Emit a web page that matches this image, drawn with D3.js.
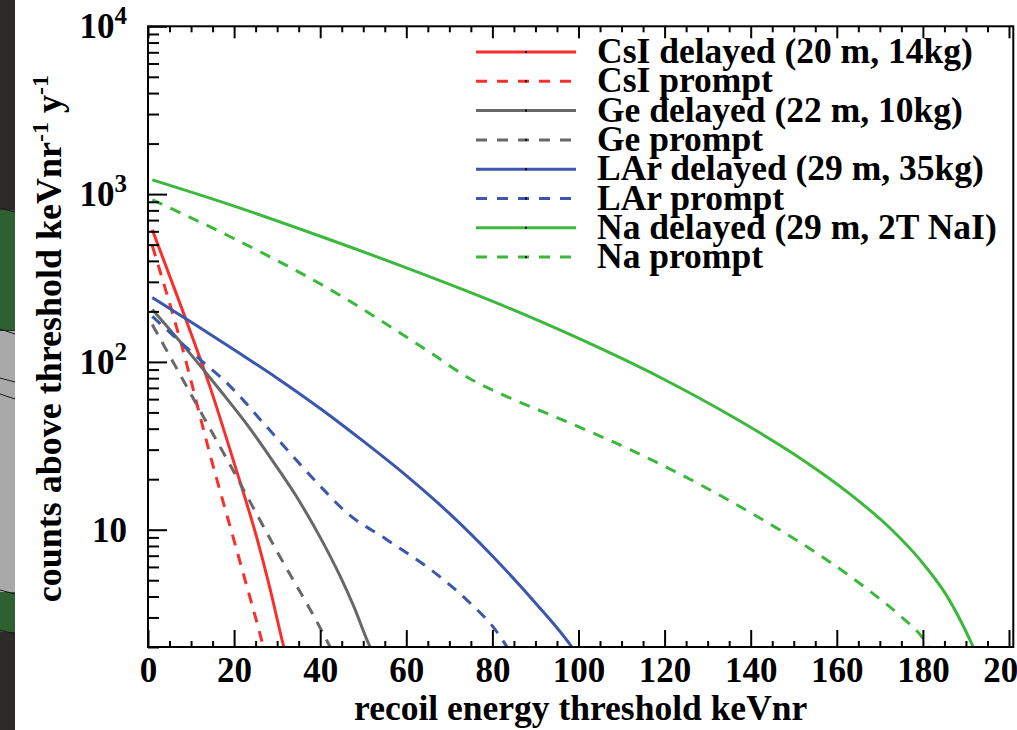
<!DOCTYPE html>
<html lang="en">
  <head>
    <meta charset="UTF-8" />
    <title>Counts above threshold</title>
    <style>
      body { margin: 0; background: #fff; }
      svg { display: block; }
      text { font-family: "Liberation Serif", "Times New Roman", serif; font-weight: bold; fill: #000; }
    </style>
  </head>
  <body>
    <svg width="1017" height="730"></svg>

    <script src="https://d3js.org/d3.v7.min.js"></script>
    <script>
      // [recoil energy threshold keVnr, counts above threshold]
      const csiDelayed = [[1, 613], [7.4, 224], [14.4, 71], [20.2, 24.1], [25.3, 8.9], [28.3, 4.5], [31.4, 2.07], [32, 1.8]];
      const csiPrompt = [[1, 492], [8.1, 118], [14.4, 28.1], [21.4, 6.4], [26.8, 2.0], [27.5, 1.7]];
      const geDelayed = [[1, 205], [9.8, 112], [16.7, 68], [23.7, 40], [28.3, 27.2], [34.2, 16.2], [40, 9.0], [44.6, 5.3], [47.7, 3.54], [51.6, 2.0], [52.5, 1.8]];
      const gePrompt = [[1, 167], [10, 64], [20, 22], [30, 7.4], [40, 2.6], [43, 1.85]];
      const larDelayed = [[1, 242], [10, 173], [20, 118], [30, 80], [40, 52.8], [50, 33.7], [60, 21], [70, 12.5], [80, 6.97], [90, 3.66], [98.7, 1.96], [100, 1.75]];
      const larPrompt = [[1, 187], [10, 115], [19, 72], [27.6, 41], [40, 18.2], [46.2, 12.6], [55.4, 8.75], [67.1, 5.42], [74.8, 3.66], [80.6, 2.55], [83.4, 2.0], [84.5, 1.8]];
      const naDelayed = [[1, 1216], [20.2, 845], [40.2, 559], [60.2, 362], [81.8, 220], [100.3, 137], [118.9, 81], [137.5, 44.4], [151.5, 26.7], [163.1, 16.3], [172.4, 10.2], [179.3, 6.63], [185.6, 4.02], [191.7, 2.0], [192.5, 1.8]];
      const naPrompt = [[1, 925], [19, 559], [42.3, 270], [65.5, 114], [74.8, 79.4], [81.8, 64.7], [95.7, 45.8], [112, 30], [128.2, 18.6], [142.2, 11.7], [156.1, 7.04], [167.7, 4.3], [174.7, 3.07], [180, 2.26], [181.4, 2.0], [182, 1.85]];

      const xTicks = [0, 20, 40, 60, 80, 100, 120, 140, 160, 180, 200];
      const yTicks = [10, 100, 1000, 10000];
      const yTickExponents = ["", "2", "3", "4"];
      const legendLabels = [
        "CsI delayed (20 m, 14kg)",
        "CsI prompt",
        "Ge delayed (22 m, 10kg)",
        "Ge prompt",
        "LAr delayed (29 m, 35kg)",
        "LAr prompt",
        "Na delayed (29 m, 2T NaI)",
        "Na prompt",
      ];

      const red = "#f8302c";
      const grey = "#686868";
      const blue = "#3b57ad";
      const green = "#3cb93c";

      const series = [
        { label: legendLabels[0], data: csiDelayed, color: red, dashed: false },
        { label: legendLabels[1], data: csiPrompt, color: red, dashed: true },
        { label: legendLabels[2], data: geDelayed, color: grey, dashed: false },
        { label: legendLabels[3], data: gePrompt, color: grey, dashed: true },
        { label: legendLabels[4], data: larDelayed, color: blue, dashed: false },
        { label: legendLabels[5], data: larPrompt, color: blue, dashed: true },
        { label: legendLabels[6], data: naDelayed, color: green, dashed: false },
        { label: legendLabels[7], data: naPrompt, color: green, dashed: true },
      ];

      const svg = d3.select("svg");
      const plotLeft = 148, plotRight = 1013.3, plotTop = 26.3, plotBottom = 647;

      // slide edge visible on the left of the picture
      const strip = svg.append("g");
      strip.append("rect").attr("x", 0).attr("y", 0).attr("width", 15).attr("height", 730).attr("fill", "#2e2a28");
      strip.append("rect").attr("x", 0).attr("y", 210).attr("width", 15).attr("height", 120).attr("fill", "#2f6031");
      strip.append("rect").attr("x", 0).attr("y", 331).attr("width", 15).attr("height", 261).attr("fill", "#a9a9a9");
      strip.append("rect").attr("x", 0).attr("y", 592).attr("width", 15).attr("height", 40).attr("fill", "#2f6031");
      [[208, 212], [329, 334], [378, 382], [394, 399], [590, 594], [630, 634]].forEach(([a, b]) => {
        strip.append("line").attr("x1", 0).attr("y1", a).attr("x2", 15).attr("y2", b)
          .attr("stroke", "#1c1c1c").attr("stroke-width", 1);
      });

      const x = d3.scaleLinear().domain([0, 201]).range([plotLeft, plotRight]);
      const y = d3.scaleLog().domain([2, 10000]).range([plotBottom, plotTop]);

      svg.append("clipPath").attr("id", "plot-clip")
        .append("rect").attr("x", plotLeft).attr("y", plotTop)
        .attr("width", plotRight - plotLeft).attr("height", plotBottom - plotTop);

      const line = d3.line()
        .x((d) => x(d[0]))
        .y((d) => y(d[1]))
        .curve(d3.curveMonotoneX);

      svg.append("g").attr("clip-path", "url(#plot-clip)")
        .selectAll("path")
        .data(series)
        .join("path")
        .attr("d", (d) => line(d.data))
        .attr("fill", "none")
        .attr("stroke", (d) => d.color)
        .attr("stroke-width", 3)
        .attr("stroke-dasharray", (d) => (d.dashed ? "11,9" : null));

      // axes (ticks drawn inside the frame)
      const styleAxis = (g) => {
        g.attr("font-family", null).attr("font-size", 35);
        g.select(".domain").remove();
        g.selectAll(".tick line").attr("stroke", "#000").attr("stroke-width", 2);
      };

      const xMinor = d3.range(0, 201, 5).filter((v) => v % 20 !== 0);

      svg.append("g")
        .attr("transform", `translate(0,${plotBottom})`)
        .call(d3.axisBottom(x).tickValues(xTicks).tickSizeInner(-17).tickSizeOuter(0).tickFormat(d3.format("d")))
        .call(styleAxis)
        .call((g) => g.selectAll(".tick text").attr("y", 35).attr("dy", null));

      svg.append("g")
        .attr("transform", `translate(0,${plotBottom})`)
        .call(d3.axisBottom(x).tickValues(xMinor).tickSizeInner(-6).tickSizeOuter(0).tickFormat(""))
        .call(styleAxis);

      svg.append("g")
        .attr("transform", `translate(0,${plotTop})`)
        .call(d3.axisTop(x).tickValues(xTicks).tickSizeInner(-12).tickSizeOuter(0).tickFormat(""))
        .call(styleAxis);

      svg.append("g")
        .attr("transform", `translate(0,${plotTop})`)
        .call(d3.axisTop(x).tickValues(xMinor).tickSizeInner(-6).tickSizeOuter(0).tickFormat(""))
        .call(styleAxis);

      const yMinor = [];
      [1, 10, 100, 1000].forEach((decade) => {
        for (let m = 2; m <= 9; m++) yMinor.push(m * decade);
      });

      svg.append("g")
        .attr("transform", `translate(${plotLeft},0)`)
        .call(d3.axisLeft(y).tickValues(yTicks).tickSizeInner(-19).tickSizeOuter(0).tickFormat(""))
        .call(styleAxis);

      svg.append("g")
        .attr("transform", `translate(${plotLeft},0)`)
        .call(d3.axisLeft(y).tickValues(yMinor).tickSizeInner(-11).tickSizeOuter(0).tickFormat(""))
        .call(styleAxis);

      // y tick labels with exponents
      const yLabels = svg.append("g").attr("font-size", 35);
      yTicks.forEach((v, i) => {
        const t = yLabels.append("text")
          .attr("x", 127)
          .attr("y", y(v) + 12)
          .attr("text-anchor", "end");
        t.append("tspan").text("10");
        if (yTickExponents[i]) {
          t.append("tspan").attr("font-size", 25).attr("dy", -14).text(yTickExponents[i]);
        }
      });

      // frame
      svg.append("rect")
        .attr("x", plotLeft).attr("y", plotTop)
        .attr("width", plotRight - plotLeft).attr("height", plotBottom - plotTop)
        .attr("fill", "none").attr("stroke", "#000").attr("stroke-width", 2);

      // axis titles
      svg.append("text")
        .attr("x", (plotLeft + plotRight) / 2)
        .attr("y", 720)
        .attr("text-anchor", "middle")
        .attr("font-size", 35.5)
        .text("recoil energy threshold keVnr");

      const yTitle = svg.append("text")
        .attr("transform", `translate(61,${(plotTop + plotBottom) / 2 + 2}) rotate(-90)`)
        .attr("text-anchor", "middle")
        .attr("font-size", 36);
      yTitle.append("tspan").text("counts above threshold keVnr");
      yTitle.append("tspan").attr("font-size", 24).attr("dy", -13).text("-1");
      yTitle.append("tspan").attr("dy", 13).text(" y");
      yTitle.append("tspan").attr("font-size", 24).attr("dy", -13).text("-1");

      // legend
      const legend = svg.append("g");
      series.forEach((s, i) => {
        const ly = 52 + i * 29.3;
        legend.append("line")
          .attr("x1", 476).attr("x2", 576)
          .attr("y1", ly).attr("y2", ly)
          .attr("stroke", s.color)
          .attr("stroke-width", 3)
          .attr("stroke-dasharray", s.dashed ? "11,10" : null);
        legend.append("rect")
          .attr("x", 525).attr("y", ly - 1)
          .attr("width", 2).attr("height", 2)
          .attr("fill", "#000");
        legend.append("text")
          .attr("x", 597)
          .attr("y", ly + 11)
          .attr("font-size", 35.5)
          .text(s.label);
      });
    </script>
  </body>
</html>
